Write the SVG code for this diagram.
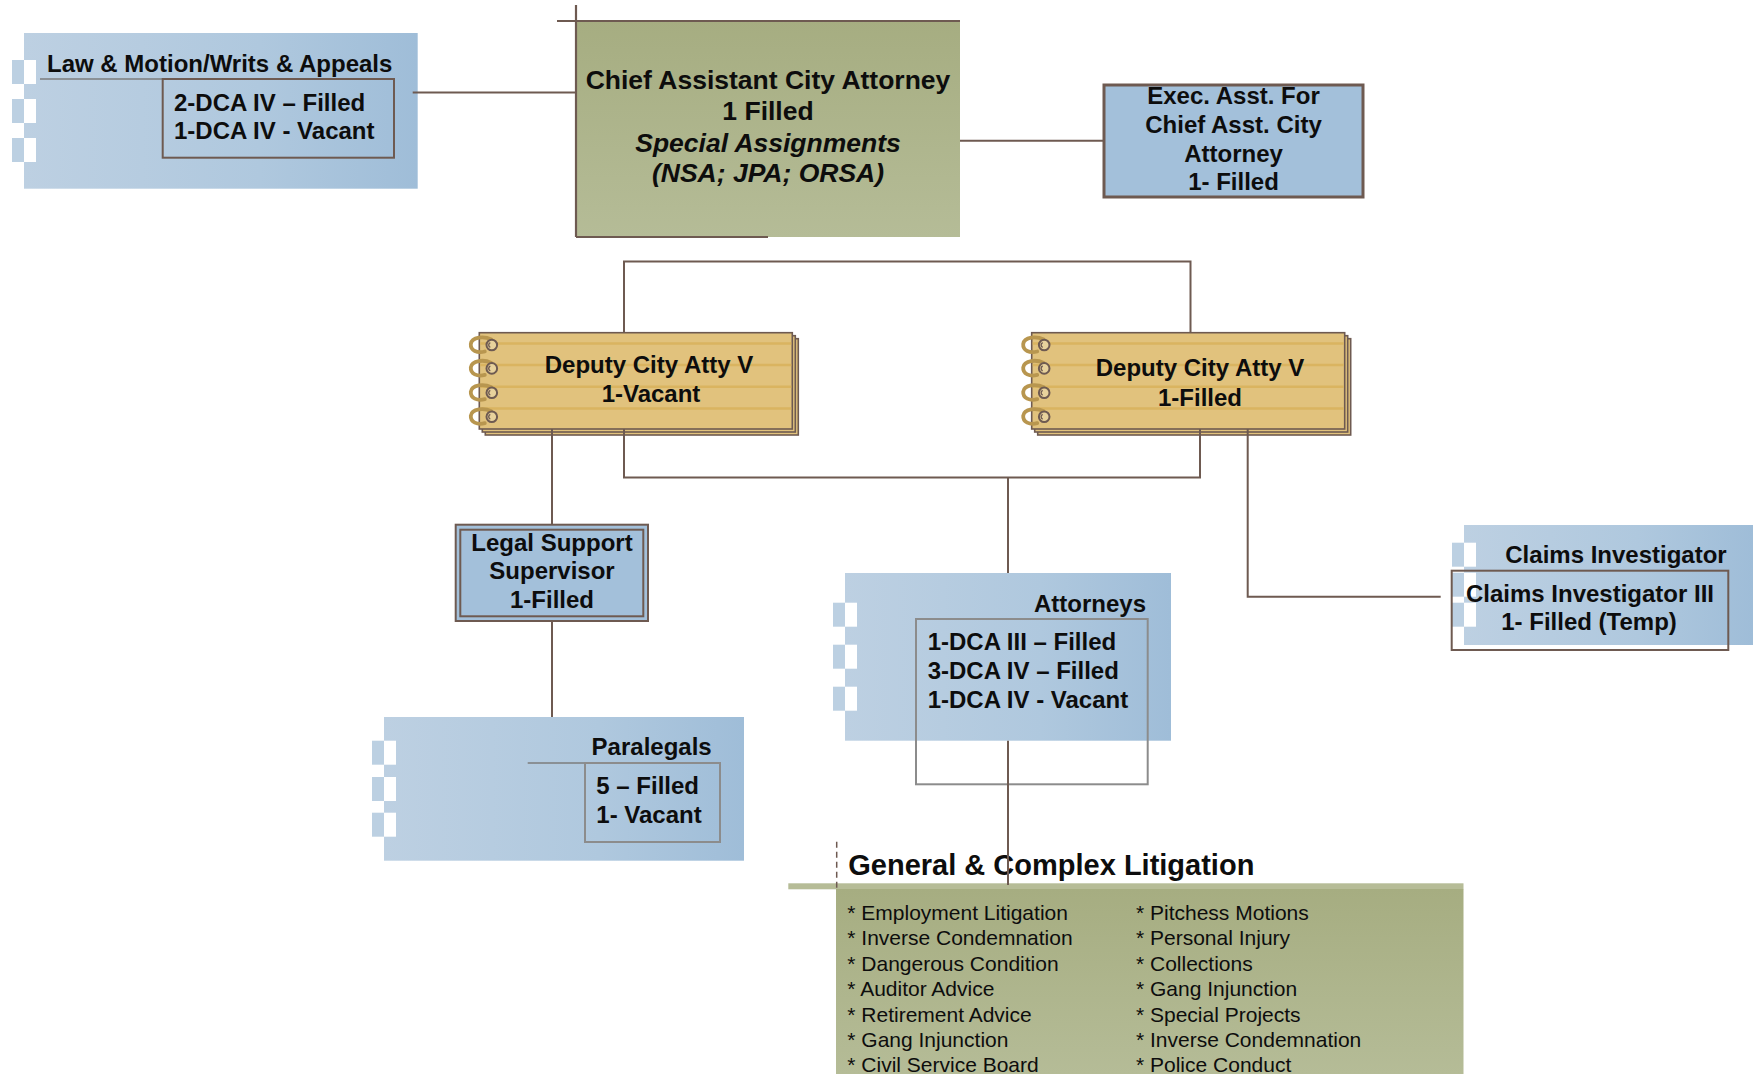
<svg xmlns="http://www.w3.org/2000/svg" width="1753" height="1074" viewBox="0 0 1753 1074">
<style>
  text{font-family:"Liberation Sans",Arial,Helvetica,sans-serif;fill:#0d0d0d}
  .b{font-weight:bold;font-size:24px}
  .c{text-anchor:middle}
  .r{text-anchor:end}
  .chief{font-weight:bold;font-size:26.5px;text-anchor:middle}
  .it{font-style:italic}
  .link{stroke:#6e5a51;stroke-width:2;fill:none}
  .edge{stroke:#6e5a51;stroke-width:2.2;fill:none}
  .inbox{fill:none;stroke:#6e5a51;stroke-width:2}
  .grybox{fill:none;stroke:#8c8c8c;stroke-width:2}
  .rule{stroke:#7d7d7d;stroke-width:1.5}
  .ck1{fill:#bcd0e2}
  .ck2{fill:#ffffff}
  .sheet{fill:#e1c27d;stroke:#6e5a51;stroke-width:1.6}
  .stripe{stroke:#d9b25c;stroke-width:2.5;opacity:0.85}
  .solid{fill:#a3c0da}
  .list{font-size:21px}
  .gtitle{font-weight:bold;font-size:29px}
</style>
<defs>
  <linearGradient id="blueFill" x1="0" y1="0" x2="1" y2="0">
    <stop offset="0" stop-color="#bdd0e2"/>
    <stop offset="0.6" stop-color="#afc8de"/>
    <stop offset="1" stop-color="#9fbdd8"/>
  </linearGradient>
  <linearGradient id="oliveFill" x1="0" y1="0" x2="0" y2="1">
    <stop offset="0" stop-color="#a6ad81"/>
    <stop offset="1" stop-color="#b5bc97"/>
  </linearGradient>
  <!-- half-blue / half-white tab square on the left of the panels -->
  <g id="ck">
    <rect class="ck1" x="0" y="0" width="12" height="24"/>
    <rect class="ck2" x="12" y="0" width="12" height="24"/>
  </g>
  <!-- notebook spiral ring -->
  <g id="ring">
    <path d="M12,-5.5 C5,-9 -7.5,-8.5 -8.5,-1 C-9,5.5 -2,8.5 5.5,6.5" fill="none" stroke="#b8964f" stroke-width="3.8" stroke-linecap="round"/>
    <circle cx="12.5" cy="0" r="5.3" fill="#e8d29c" stroke="#6e5a51" stroke-width="2"/>
    <path d="M11,-2.4 A2.6 2.6 0 0 0 11 2.4" stroke="#6e5a51" stroke-width="1.4" fill="none"/>
  </g>
  <!-- notebook card with two pages stacked behind -->
  <g id="card">
    <rect class="sheet" x="6" y="6" width="313" height="96.3"/>
    <rect class="sheet" x="3" y="3" width="313" height="96.3"/>
    <rect class="sheet" x="0" y="0" width="313" height="96.3" stroke-width="2"/>
    <line class="stripe" x1="1" y1="10.7" x2="312" y2="10.7"/>
    <line class="stripe" x1="1" y1="32.3" x2="312" y2="32.3"/>
    <line class="stripe" x1="1" y1="54" x2="312" y2="54"/>
    <line class="stripe" x1="1" y1="75.7" x2="312" y2="75.7"/>
    <use href="#ring" x="0" y="12.3"/>
    <use href="#ring" x="0" y="35.7"/>
    <use href="#ring" x="0" y="60"/>
    <use href="#ring" x="0" y="84"/>
  </g>
</defs>

<rect x="0" y="0" width="1753" height="1074" fill="#ffffff"/>

<!-- Law & Motion / Writs & Appeals -->
<g id="law-motion">
  <rect x="24" y="33" width="393.7" height="155.7" fill="url(#blueFill)"/>
  <use href="#ck" x="12" y="60"/>
  <use href="#ck" x="12" y="99"/>
  <use href="#ck" x="12" y="138"/>
  <text class="b" x="47" y="71.7">Law &amp; Motion/Writs &amp; Appeals</text>
  <line class="rule" x1="40" y1="79" x2="162.7" y2="79"/>
  <rect class="inbox" x="162.7" y="79" width="231.3" height="78.7"/>
  <text class="b" x="174" y="110.7">2-DCA IV – Filled</text>
  <text class="b" x="174" y="139">1-DCA IV - Vacant</text>
</g>

<!-- Chief Assistant City Attorney -->
<g id="chief">
  <rect x="576" y="21" width="384" height="216" fill="url(#oliveFill)"/>
  <line class="edge" x1="557" y1="21" x2="960" y2="21"/>
  <line class="edge" x1="576" y1="5" x2="576" y2="237"/>
  <line class="edge" x1="576" y1="237" x2="768" y2="237"/>
  <text class="chief" x="768" y="89">Chief Assistant City Attorney</text>
  <text class="chief" x="768" y="120">1 Filled</text>
  <text class="chief it" x="768" y="151.5">Special Assignments</text>
  <text class="chief it" x="768" y="182">(NSA; JPA; ORSA)</text>
</g>

<!-- Executive assistant -->
<g id="exec-asst">
  <rect class="solid" x="1104" y="85" width="259" height="112" stroke="#6e5a51" stroke-width="3"/>
  <text class="b c" x="1233.5" y="104.3">Exec. Asst. For</text>
  <text class="b c" x="1233.5" y="133.3">Chief Asst. City</text>
  <text class="b c" x="1233.5" y="161.7">Attorney</text>
  <text class="b c" x="1233.5" y="190">1- Filled</text>
</g>

<!-- Deputy City Atty V (vacant) -->
<g id="deputy-vacant">
  <use href="#card" x="479.3" y="332.7"/>
  <text class="b c" x="649" y="373.3">Deputy City Atty V</text>
  <text class="b c" x="651" y="401.7">1-Vacant</text>
</g>

<!-- Deputy City Atty V (filled) -->
<g id="deputy-filled">
  <use href="#card" x="1031.7" y="332.7"/>
  <text class="b c" x="1200" y="375.5">Deputy City Atty V</text>
  <text class="b c" x="1200" y="405.5">1-Filled</text>
</g>

<!-- Legal Support Supervisor -->
<g id="legal-support">
  <rect class="solid" x="455.7" y="524.7" width="192.3" height="96.3" stroke="#6e5a51" stroke-width="2"/>
  <rect x="460.3" y="529.7" width="183" height="86.6" fill="none" stroke="#6e5a51" stroke-width="2"/>
  <text class="b c" x="552" y="550.7">Legal Support</text>
  <text class="b c" x="552" y="579.3">Supervisor</text>
  <text class="b c" x="552" y="608.3">1-Filled</text>
</g>

<!-- Paralegals -->
<g id="paralegals">
  <rect x="384" y="717" width="360" height="143.7" fill="url(#blueFill)"/>
  <use href="#ck" x="372" y="740.7"/>
  <use href="#ck" x="372" y="777"/>
  <use href="#ck" x="372" y="812.7"/>
  <text class="b r" x="711.7" y="755">Paralegals</text>
  <line class="rule" x1="527.7" y1="763" x2="585" y2="763"/>
  <rect class="grybox" x="585" y="763" width="135" height="79"/>
  <text class="b" x="596.3" y="794">5 – Filled</text>
  <text class="b" x="596.3" y="823.3">1- Vacant</text>
</g>

<!-- Attorneys -->
<g id="attorneys">
  <rect x="845" y="573" width="326" height="167.7" fill="url(#blueFill)"/>
  <use href="#ck" x="833" y="602.7"/>
  <use href="#ck" x="833" y="644.7"/>
  <use href="#ck" x="833" y="686.7"/>
  <text class="b r" x="1146" y="611.7">Attorneys</text>
  <rect class="grybox" x="916" y="619" width="231.7" height="165.3"/>
  <text class="b" x="927.7" y="650">1-DCA III – Filled</text>
  <text class="b" x="927.7" y="679">3-DCA IV – Filled</text>
  <text class="b" x="927.7" y="708.3">1-DCA IV - Vacant</text>
</g>

<!-- Claims Investigator -->
<g id="claims">
  <rect x="1464" y="525" width="289" height="120" fill="url(#blueFill)"/>
  <use href="#ck" x="1452" y="542.7"/>
  <use href="#ck" x="1452" y="572.7"/>
  <use href="#ck" x="1452" y="602.7"/>
  <text class="b r" x="1726.7" y="563.3">Claims Investigator</text>
  <rect class="inbox" x="1451.7" y="570.7" width="276.6" height="79.3"/>
  <text class="b c" x="1590" y="601.7">Claims Investigator III</text>
  <text class="b c" x="1589" y="630">1- Filled (Temp)</text>
</g>

<!-- General & Complex Litigation -->
<g id="general-litigation">
  <rect x="788.3" y="883.3" width="675.2" height="6" fill="#b6bc97"/>
  <rect x="836" y="889" width="627.5" height="185" fill="url(#oliveFill)"/>
  <line x1="836.7" y1="841.7" x2="836.7" y2="889" stroke="#6e5a51" stroke-width="1.5" stroke-dasharray="6 4"/>
  <text class="gtitle" x="848.3" y="875">General &amp; Complex Litigation</text>
  <text class="list" x="847.3" y="920">
    <tspan x="847.3" dy="0">* Employment Litigation</tspan>
    <tspan x="847.3" dy="25.4">* Inverse Condemnation</tspan>
    <tspan x="847.3" dy="25.4">* Dangerous Condition</tspan>
    <tspan x="847.3" dy="25.4">* Auditor Advice</tspan>
    <tspan x="847.3" dy="25.4">* Retirement Advice</tspan>
    <tspan x="847.3" dy="25.4">* Gang Injunction</tspan>
    <tspan x="847.3" dy="25.4">* Civil Service Board</tspan>
  </text>
  <text class="list" x="1136" y="920">
    <tspan x="1136" dy="0">* Pitchess Motions</tspan>
    <tspan x="1136" dy="25.4">* Personal Injury</tspan>
    <tspan x="1136" dy="25.4">* Collections</tspan>
    <tspan x="1136" dy="25.4">* Gang Injunction</tspan>
    <tspan x="1136" dy="25.4">* Special Projects</tspan>
    <tspan x="1136" dy="25.4">* Inverse Condemnation</tspan>
    <tspan x="1136" dy="25.4">* Police Conduct</tspan>
  </text>
</g>

<!-- reporting lines -->
<g id="connectors" class="link">
  <line x1="412.7" y1="92.5" x2="576" y2="92.5"/>
  <line x1="960" y1="140.7" x2="1104" y2="140.7"/>
  <polyline points="624,332.7 624,261.6 1190.5,261.6 1190.5,332.7"/>
  <polyline points="624,429 624,477.4 1200,477.4 1200,429"/>
  <line x1="1008" y1="477.4" x2="1008" y2="573"/>
  <line x1="1008" y1="740.7" x2="1008" y2="885"/>
  <line x1="552" y1="429" x2="552" y2="524.7"/>
  <line x1="552" y1="621" x2="552" y2="717"/>
  <polyline points="1247.7,429 1247.7,596.7 1440.7,596.7"/>
</g>
</svg>
